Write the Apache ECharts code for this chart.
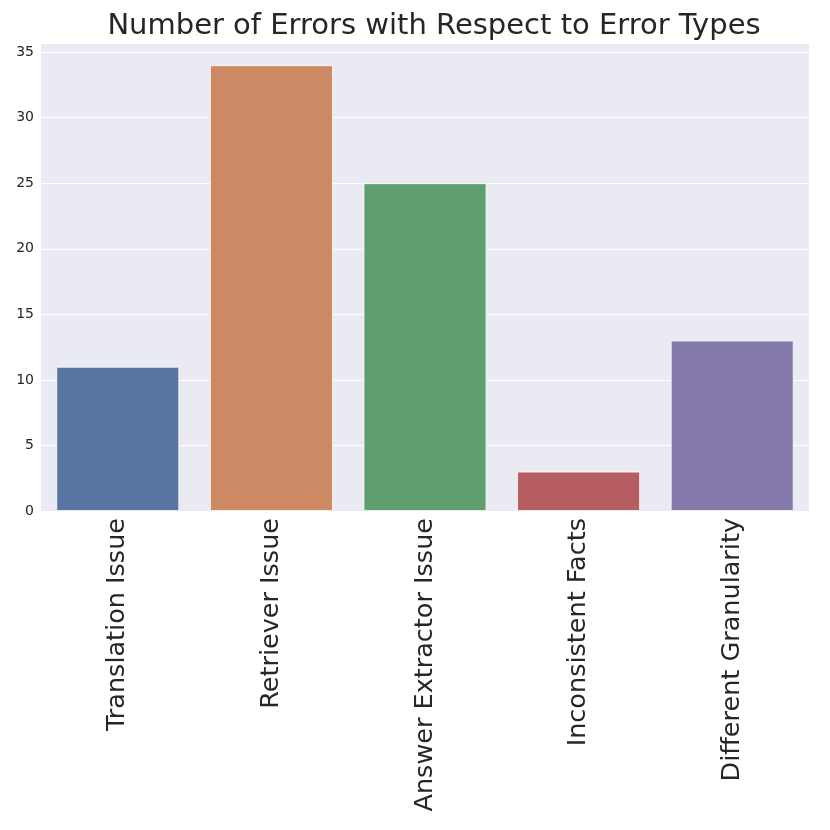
<!DOCTYPE html>
<html>
<head>
<meta charset="utf-8">
<script src="https://cdn.jsdelivr.net/npm/echarts@6/dist/echarts.min.js"></script>
<style>
  html, body { margin: 0; padding: 0; background: #fff; }
  #chart { width: 830px; height: 830px; }
</style>
</head>
<body>
<div id="chart"></div>
<script>
const categories = ['Translation Issue', 'Retriever Issue', 'Answer Extractor Issue', 'Inconsistent Facts', 'Different Granularity']
const errorCounts = [11, 34, 25, 3, 13]
const barColors = ['#5975a4', '#cc8963', '#5f9e6e', '#b55d60', '#857aab']

const chart = echarts.init(document.getElementById('chart'))
chart.setOption({
  animation: false,
  backgroundColor: '#fff',
  title: {
    text: 'Number of Errors with Respect to Error Types',
    left: 429,
    textAlign: 'center',
    top: 7,
    textStyle: {
      fontFamily: 'DejaVu Sans',
      fontSize: 29,
      fontWeight: 'normal',
      color: '#262626'
    }
  },
  grid: {
    left: 41,
    right: 21,
    top: 43,
    bottom: 319,
    show: true,
    backgroundColor: '#eaeaf2',
    borderWidth: 0
  },
  xAxis: {
    type: 'category',
    data: categories,
    axisLine: { show: false },
    axisTick: { show: false },
    axisLabel: {
      rotate: 90,
      margin: 7,
      interval: 0,
      fontFamily: 'DejaVu Sans',
      fontSize: 25.5,
      color: '#262626'
    }
  },
  yAxis: {
    type: 'value',
    min: 0,
    max: 35.7,
    interval: 5,
    axisLine: { show: false },
    axisTick: { show: false },
    axisLabel: {
      margin: 7,
      fontFamily: 'DejaVu Sans',
      fontSize: 14,
      color: '#262626',
      showMaxLabel: false
    },
    splitLine: { lineStyle: { color: '#ffffff', width: 1 } }
  },
  series: [
    {
      type: 'bar',
      barCategoryGap: '20%',
      data: errorCounts.map((v, i) => ({
        value: v,
        itemStyle: { color: barColors[i], borderColor: '#ffffff', borderWidth: 0.8 }
      }))
    }
  ]
})
</script>
</body>
</html>
